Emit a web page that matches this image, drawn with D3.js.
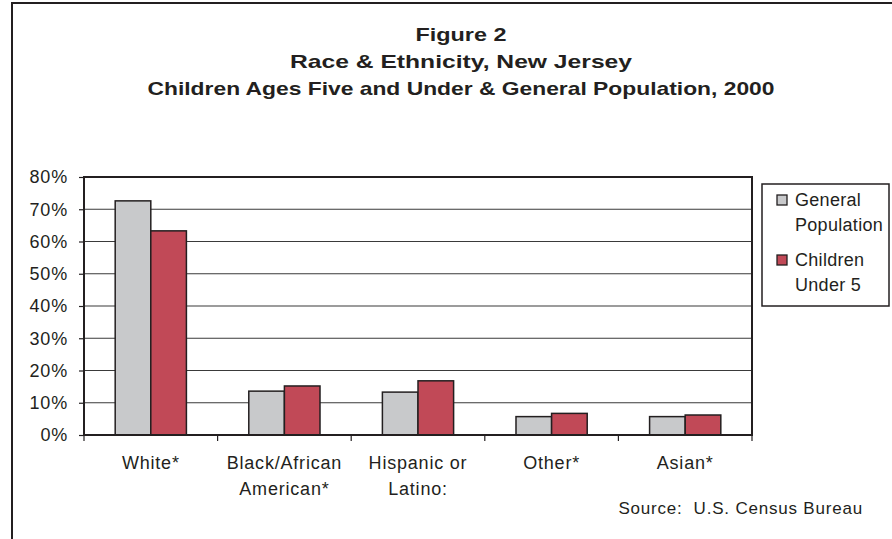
<!DOCTYPE html>
<html>
<head>
<meta charset="utf-8">
<script src="https://cdn.jsdelivr.net/npm/d3@7"></script>
<style>
  html, body { margin: 0; padding: 0; background: #fff; }
  svg { display: block; }
  text { font-family: "Liberation Sans", Arial, sans-serif; fill: #231f20; }
  .lbl { letter-spacing: 0.8px; }
  .leg { letter-spacing: 0.3px; }
</style>
</head>
<body>
<svg id="chart" width="892" height="539"></svg>
<script>
// ---- data ----
const categories = [["White*"], ["Black/African", "American*"], ["Hispanic or", "Latino:"], ["Other*"], ["Asian*"]];
const seriesNames = ["General Population", "Children Under 5"];
const legendLines = [["General", "Population"], ["Children", "Under 5"]];
const generalPopulation = [72.6, 13.6, 13.3, 5.7, 5.7];
const childrenUnder5 = [63.3, 15.2, 16.8, 6.7, 6.2];
const yTicks = [0, 10, 20, 30, 40, 50, 60, 70, 80];
const titleLines = ["Figure 2", "Race & Ethnicity, New Jersey", "Children Ages Five and Under & General Population, 2000"];
const sourceText = "Source:  U.S. Census Bureau";

const colors = ["#c8c9cb", "#c14957"];
const ink = "#231f20";

const svg = d3.select("#chart");

// outer frame (left and top edges)
svg.append("path")
  .attr("d", "M12,539 L12,3 L892,3")
  .attr("fill", "none").attr("stroke", ink).attr("stroke-width", 2);

// title
const titleWidths = [91, 342, 627];
svg.append("g").selectAll("text").data(titleLines).join("text")
  .attr("x", 461).attr("y", (d, i) => 41 + i * 27)
  .attr("text-anchor", "middle")
  .attr("font-size", 19).attr("font-weight", "bold")
  .attr("textLength", (d, i) => titleWidths[i])
  .attr("lengthAdjust", "spacingAndGlyphs")
  .text(d => d);

// plot area
const pLeft = 84, pRight = 752, pTop = 177, pBottom = 435;
const x = d3.scaleBand().domain(d3.range(categories.length)).range([pLeft, pRight]).paddingInner(0).paddingOuter(0);
const y = d3.scaleLinear().domain([0, 80]).range([pBottom, pTop]);
const inner = d3.scaleBand().domain([0, 1]).range([0, x.bandwidth()]).paddingInner(0).paddingOuter(0.876);

// gridlines
svg.append("g").selectAll("line").data(yTicks.filter(t => t > 0)).join("line")
  .attr("x1", pLeft).attr("x2", pRight)
  .attr("y1", d => y(d)).attr("y2", d => y(d))
  .attr("stroke", "#3a3a3a").attr("stroke-width", 1.2);

// y axis
const yAxis = svg.append("g").attr("transform", `translate(${pLeft},0)`)
  .call(d3.axisLeft(y).tickValues(yTicks).tickFormat(d => d + "%").tickSize(5).tickPadding(11));
yAxis.select(".domain").remove();
yAxis.selectAll("line").attr("stroke", ink).attr("stroke-width", 1.2);
yAxis.selectAll("text").attr("font-size", 18).attr("fill", ink).attr("class", "lbl")
  .attr("font-family", "Liberation Sans, Arial, sans-serif");

// bars
const series = [generalPopulation, childrenUnder5];
series.forEach((vals, s) => {
  svg.append("g").selectAll("rect").data(vals).join("rect")
    .attr("x", (d, i) => x(i) + inner(s))
    .attr("y", d => y(d))
    .attr("width", inner.bandwidth())
    .attr("height", d => pBottom - y(d))
    .attr("fill", colors[s])
    .attr("stroke", ink).attr("stroke-width", 1.5);
});

// plot border
svg.append("rect")
  .attr("x", pLeft).attr("y", pTop).attr("width", pRight - pLeft).attr("height", pBottom - pTop)
  .attr("fill", "none").attr("stroke", ink).attr("stroke-width", 2);

// x axis ticks (category boundaries)
const xAxis = svg.append("g").attr("transform", `translate(0,${pBottom})`);
xAxis.selectAll("line").data(d3.range(categories.length + 1)).join("line")
  .attr("x1", i => i < categories.length ? x(i) : pRight)
  .attr("x2", i => i < categories.length ? x(i) : pRight)
  .attr("y1", 0).attr("y2", 6)
  .attr("stroke", ink).attr("stroke-width", 1.2);

// category labels
const catG = svg.append("g");
categories.forEach((lines, i) => {
  lines.forEach((ln, j) => {
    catG.append("text")
      .attr("class", "lbl")
      .attr("x", x(i) + x.bandwidth() / 2)
      .attr("y", 469 + j * 26)
      .attr("text-anchor", "middle")
      .attr("font-size", 18)
      .text(ln);
  });
});

// legend
const lg = svg.append("g");
lg.append("rect").attr("x", 762).attr("y", 184).attr("width", 127).attr("height", 122)
  .attr("fill", "#fff").attr("stroke", ink).attr("stroke-width", 1.5);
legendLines.forEach((lines, s) => {
  const baseY = 206 + s * 60;
  lg.append("rect").attr("x", 777).attr("y", baseY - 11).attr("width", 10).attr("height", 10)
    .attr("fill", colors[s]).attr("stroke", ink).attr("stroke-width", 1.3);
  lines.forEach((ln, j) => {
    lg.append("text").attr("class", "leg").attr("x", 795).attr("y", baseY + j * 24.5)
      .attr("font-size", 18).text(ln);
  });
});

// source
svg.append("text").attr("class", "lbl").attr("x", 863).attr("y", 514).attr("text-anchor", "end")
  .attr("font-size", 17)
  .style("white-space", "pre")
  .text(sourceText);
</script>
</body>
</html>
